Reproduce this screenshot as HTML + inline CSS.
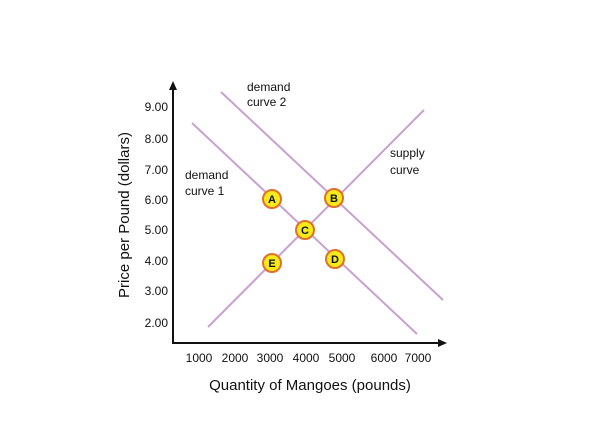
<!DOCTYPE html>
<html><head><style>body{margin:0;background:#fff}svg{display:block}text{font-family:"Liberation Sans",sans-serif;fill:#111}</style></head><body>
<svg width="605" height="430" viewBox="0 0 605 430">
<g stroke="#111" stroke-width="2" fill="none">
<line x1="173" y1="343" x2="173" y2="88"/>
<line x1="172" y1="343" x2="441" y2="343"/>
</g>
<polygon points="173,81 169,90 177,90" fill="#111"/>
<polygon points="447,343 438,339 438,347" fill="#111"/>
<g font-size="12" text-anchor="end">
<text x="168" y="111">9.00</text><text x="168" y="143">8.00</text><text x="168" y="174">7.00</text>
<text x="168" y="204">6.00</text><text x="168" y="234">5.00</text><text x="168" y="265">4.00</text>
<text x="168" y="295">3.00</text><text x="168" y="327">2.00</text>
</g>
<g font-size="12" text-anchor="middle">
<text x="199" y="362">1000</text><text x="235" y="362">2000</text><text x="270" y="362">3000</text>
<text x="306" y="362">4000</text><text x="342" y="362">5000</text><text x="384" y="362">6000</text><text x="418" y="362">7000</text>
</g>
<g stroke="#c9a0d0" stroke-width="2">
<line x1="192" y1="123" x2="417" y2="334"/>
<line x1="221" y1="92" x2="443" y2="300"/>
<line x1="208" y1="327" x2="424" y2="110"/>
</g>
<g font-size="12">
<text x="247" y="91">demand</text><text x="247" y="106">curve 2</text>
<text x="390" y="157">supply</text><text x="390" y="174">curve</text>
<text x="185" y="179">demand</text><text x="185" y="195">curve 1</text>
</g>
<g fill="#f7ea1a" stroke="#e0702a" stroke-width="2">
<circle cx="272" cy="199" r="9"/><circle cx="334" cy="198" r="9"/><circle cx="305" cy="230" r="9"/>
<circle cx="335" cy="259" r="9"/><circle cx="272" cy="263" r="9"/>
</g>
<g font-size="11" font-weight="bold" text-anchor="middle">
<text x="272" y="203">A</text><text x="334" y="202">B</text><text x="305" y="234">C</text>
<text x="335" y="263">D</text><text x="272" y="267">E</text>
</g>
<text x="310" y="390" font-size="15" text-anchor="middle">Quantity of Mangoes (pounds)</text>
<text transform="translate(129,215) rotate(-90)" font-size="15" text-anchor="middle">Price per Pound (dollars)</text>
</svg>
</body></html>
